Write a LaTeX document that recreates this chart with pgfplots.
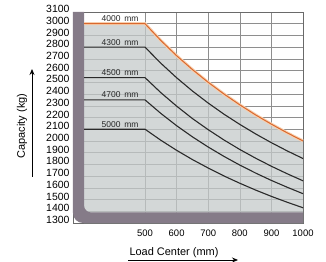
\documentclass[border=0pt]{standalone}
\usepackage{fontspec}
\setmainfont{Liberation Sans}
\usepackage{pgfplots}
\pgfplotsset{compat=1.18}
\usetikzlibrary{arrows.meta}
\definecolor{fillgray}{HTML}{C4CACA}
\definecolor{mastcol}{HTML}{857B88}
\definecolor{orangeline}{HTML}{D9682E}
\definecolor{orangeglow}{HTML}{F7CFAE}
\definecolor{gridcol}{HTML}{8E8E8E}
\definecolor{framecol}{HTML}{6A6A6A}
\definecolor{curvecol}{HTML}{2A2A2A}
\begin{document}
\begin{tikzpicture}
\useasboundingbox (-73bp,-39bp) rectangle (253bp,223bp);
\begin{axis}[
  at={(0,0)}, anchor=south west,
  scale only axis, width=230bp, height=211bp,
  xmin=272, xmax=1000, ymin=1300, ymax=3100,
  xtick={500,600,...,1000}, ytick={1300,1400,...,3100},
  grid=major, grid style={gridcol, line width=0.5bp},
  major tick length=0pt,
  axis line style={framecol, line width=0.9bp},
  clip=false,
  /pgf/number format/assume math mode=true,
  /pgf/number format/1000 sep={},
  yticklabel style={font=\fontsize{10.5}{12}\selectfont, yshift=3bp},
  xticklabel style={font=\fontsize{9.5}{11}\selectfont, yshift=-3bp},
]
% shaded capacity area
\addplot[fill=fillgray, fill opacity=0.75, draw=none] coordinates {
 (307,3000)(500,3000)(550,2857)(600,2727)(650,2609)(700,2500)(750,2400)(800,2308)(850,2222)(900,2143)(950,2069)(1000,2000)} \closedcycle;
% mast bar
\fill[mastcol] (axis cs:272,3100) -- (axis cs:272,2000) [rounded corners=10bp] -- (axis cs:272,1300) -- (axis cs:700,1300) [sharp corners] -- (axis cs:1000,1300) -- (axis cs:1000,1390) -- (axis cs:700,1390) [rounded corners=7bp] -- (axis cs:307,1390) -- (axis cs:307,2000) [sharp corners] -- (axis cs:307,3100) -- cycle;
% 4000 mm
\addplot[orangeglow, line width=3bp] coordinates {
 (307,3000)(500,3000)(550,2857)(600,2727)(650,2609)(700,2500)(750,2400)(800,2308)(850,2222)(900,2143)(950,2069)(1000,2000)};
\addplot[orangeline, line width=1bp] coordinates {
 (307,3000)(500,3000)(550,2857)(600,2727)(650,2609)(700,2500)(750,2400)(800,2308)(850,2222)(900,2143)(950,2069)(1000,2000)};
% 4300 mm
\addplot[curvecol, line width=1.1bp] coordinates {
 (307,2800)(500,2800)(550,2663)(600,2539)(650,2426)(700,2323)(750,2228)(800,2141)(850,2060)(900,1985)(950,1915)(1000,1850)};
% 4500 mm
\addplot[curvecol, line width=1.1bp] coordinates {
 (307,2540)(500,2540)(550,2412)(600,2297)(650,2191)(700,2096)(750,2008)(800,1927)(850,1853)(900,1784)(950,1720)(1000,1660)};
% 4700 mm
\addplot[curvecol, line width=1.1bp] coordinates {
 (307,2350)(500,2350)(550,2235)(600,2130)(650,2035)(700,1948)(750,1868)(800,1794)(850,1726)(900,1663)(950,1605)(1000,1550)};
% 5000 mm
\addplot[curvecol, line width=1.1bp] coordinates {
 (307,2100)(500,2100)(550,2006)(600,1920)(650,1841)(700,1769)(750,1701)(800,1639)(850,1581)(900,1527)(950,1477)(1000,1430)};
\begin{scope}[every node/.style={font=\fontsize{8.5}{10}\selectfont, color=black!85, yshift=5bp}]
\node at (axis cs:421,3000) {4000\, mm};
\node at (axis cs:421,2800) {4300\, mm};
\node at (axis cs:421,2540) {4500\, mm};
\node at (axis cs:421,2350) {4700\, mm};
\node at (axis cs:421,2100) {5000\, mm};
\end{scope}
\end{axis}
\node[font=\fontsize{11}{13}\selectfont] at (101bp,-30bp) {Load Center (mm)};
\draw[line width=0.8bp, -{Stealth[length=6bp,width=5bp]}] (55bp,-37bp) -- (165bp,-37bp);
\node[font=\fontsize{11}{13}\selectfont, rotate=90] at (-51bp,97bp) {Capacity (kg)};
\draw[line width=0.8bp, -{Stealth[length=6bp,width=5bp]}] (-41bp,46bp) -- (-41bp,154bp);
\end{tikzpicture}
\end{document}
